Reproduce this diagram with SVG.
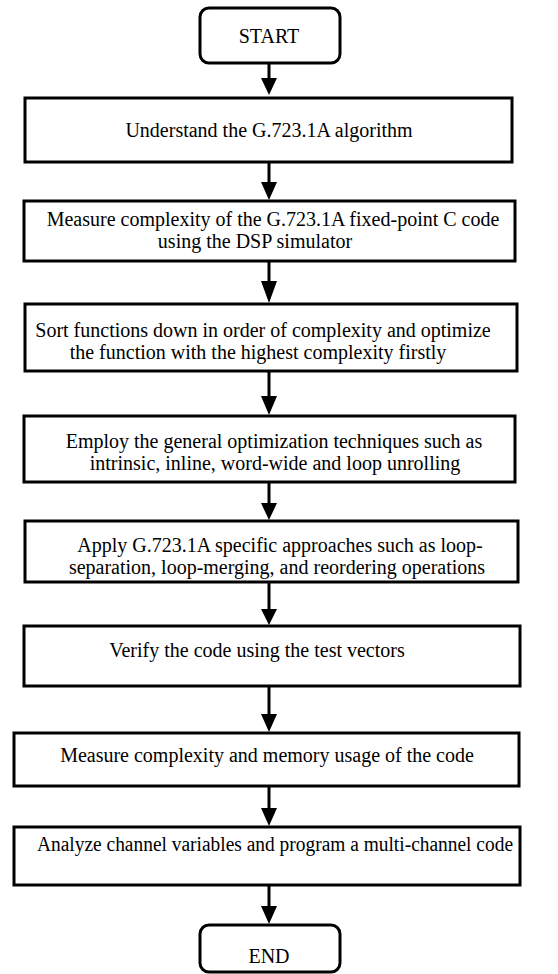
<svg xmlns="http://www.w3.org/2000/svg" width="558" height="974" viewBox="0 0 558 974">
<style>
.box{fill:#fff;stroke:#000;stroke-width:3}
.t{font-family:'Liberation Serif','Times New Roman',serif;font-size:20px;fill:#000;text-anchor:middle}
.c{stroke:#000;stroke-width:3;fill:none}
.h{fill:#000}
</style>
<g font-family="Liberation Serif, Times New Roman, serif">
<g id="start"><rect class="box" x="200" y="8" width="140" height="55" rx="9"/><text class="t" x="269" y="43">START</text></g>
<g id="n1"><rect class="box" x="25" y="98" width="487" height="64"/><text class="t" x="269" y="137">Understand the G.723.1A algorithm</text></g>
<g id="n2"><rect class="box" x="24" y="201" width="491" height="60"/><text class="t" x="273" y="226">Measure complexity of the G.723.1A fixed-point C code</text><text class="t" x="255" y="248">using the DSP simulator</text></g>
<g id="n3"><rect class="box" x="25" y="304" width="492" height="67"/><text class="t" x="263" y="337">Sort functions down in order of complexity and optimize</text><text class="t" x="258" y="359">the function with the highest complexity firstly</text></g>
<g id="n4"><rect class="box" x="24" y="416" width="491" height="66"/><text class="t" x="274" y="448">Employ the general optimization techniques such as</text><text class="t" x="275" y="470">intrinsic, inline, word-wide and loop unrolling</text></g>
<g id="n5"><rect class="box" x="25" y="521" width="493" height="61"/><text class="t" x="280" y="552">Apply G.723.1A specific approaches such as loop-</text><text class="t" x="277" y="574">separation, loop-merging, and reordering operations</text></g>
<g id="n6"><rect class="box" x="24" y="626" width="496" height="60"/><text class="t" x="257" y="657">Verify the code using the test vectors</text></g>
<g id="n7"><rect class="box" x="14" y="733" width="505" height="53"/><text class="t" x="267" y="762">Measure complexity and memory usage of the code</text></g>
<g id="n8"><rect class="box" x="14" y="827" width="506" height="58"/><text class="t" x="275" y="851" textLength="476" lengthAdjust="spacingAndGlyphs">Analyze channel variables and program a multi-channel code</text></g>
<g id="end"><rect class="box" x="200" y="925" width="140" height="47" rx="9"/><text class="t" x="269" y="963">END</text></g>
</g>
<g id="connectors">
<path class="c" d="M269 63V80M269 162V184M269 261V283M269 371V398M269 482V505M269 582V611M269 686V716M269 786V810M269 885V908"/>
<path class="h" d="M261 78H277L269 95ZM261 182H277L269 200ZM261 281H277L269 303ZM261 396H277L269 415ZM261 503H277L269 520ZM261 609H277L269 625ZM261 714H277L269 732ZM261 808H277L269 826ZM261 906H277L269 924Z"/>
</g>
</svg>
